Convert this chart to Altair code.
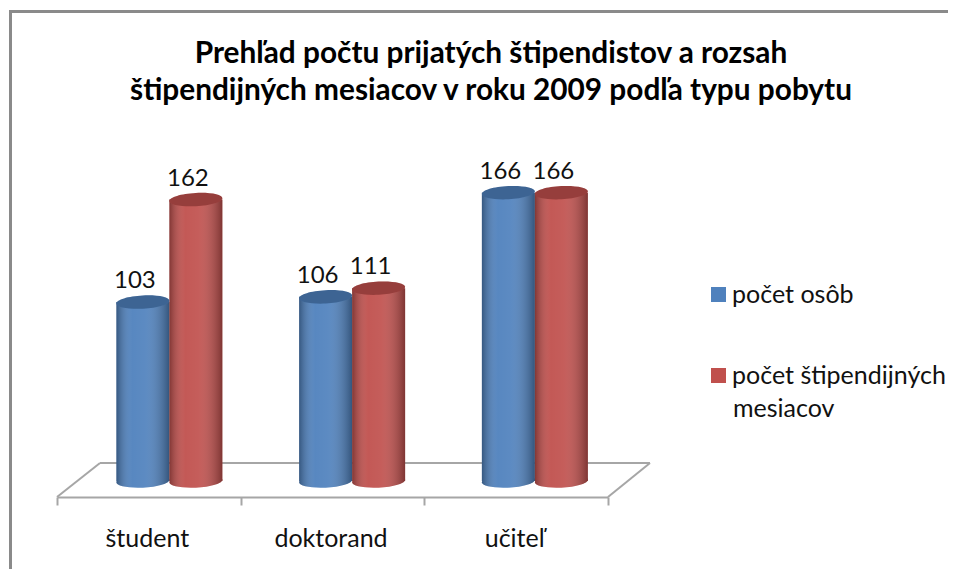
import altair as alt
import pandas as pd

categories = ["študent", "doktorand", "učiteľ"]
series_names = ["počet osôb", "počet štipendijných mesiacov"]
osob = [103, 106, 166]
mesiacov = [162, 111, 166]
title_lines = ["Prehľad počtu prijatých štipendistov a rozsah",
               "štipendijných mesiacov v roku 2009 podľa typu pobytu"]
FONT = "Lato"

rows = []
for c, a, b in zip(categories, osob, mesiacov):
    rows.append({"cat": c, "series": series_names[0], "value": a, "zero": 0})
    rows.append({"cat": c, "series": series_names[1], "value": b, "zero": 0})
df = pd.DataFrame(rows)
one = pd.DataFrame({"t": ["mesiacov"]})

W, H = 937, 557
bar_x = alt.Scale(domain=categories, range=[67, 615.25], paddingInner=0.42, paddingOuter=0.21)
axis_x = alt.Scale(domain=categories, range=[46, 597], paddingInner=0, paddingOuter=0)
y_s = alt.Scale(domain=[0, 270], range=[469, 0], nice=False)
off_s = alt.Scale(domain=series_names, paddingInner=0, paddingOuter=0)
col_s = alt.Scale(domain=series_names, range=["#4F81BD", "#C0504D"])

X = alt.X("cat:N", scale=bar_x, axis=None)
XO = alt.XOffset("series:N", scale=off_s)
Y = alt.Y("value:Q", scale=y_s, axis=None)
Y0 = alt.Y("zero:Q", scale=y_s, axis=None)

ELLIPSE = "M-1,0.05A1,0.25,-3,1,1,1,-0.05A1,0.25,-3,1,1,-1,0.05Z"
SIZE = 53 ** 2

shade = alt.Gradient(
    gradient="linear", x1=0, x2=1, y1=0, y2=0,
    stops=[
        alt.GradientStop(offset=0, color="rgba(0,0,0,0.32)"),
        alt.GradientStop(offset=0.3, color="rgba(255,255,255,0.05)"),
        alt.GradientStop(offset=0.55, color="rgba(255,255,255,0.08)"),
        alt.GradientStop(offset=1, color="rgba(0,0,0,0.34)"),
    ],
)

def edge(x1, x2, y1, y2, color="#a6a6a6", width=2):
    return alt.Chart(one).mark_rule(color=color, strokeWidth=width).encode(
        x=alt.value(x1), x2=alt.value(x2), y=alt.value(y1), y2=alt.value(y2)
    )

layers = [
    alt.Chart(df).mark_point(opacity=0).encode(
        x=alt.X("cat:N", scale=axis_x, axis=alt.Axis(
            title=None, orient="bottom", offset=-72, labelAngle=0, labelFont=FONT,
            labelFontSize=25, labelColor="#111111", labelPadding=21, labelOffset=-2, tickBand="extent",
            tickSize=8, tickWidth=2, tickColor="#a6a6a6", domainColor="#a6a6a6",
            domainWidth=2, grid=False)),
        y=Y0,
    ),
    edge(-0.5, -0.5, -2, 557, "#8a8a8a", 3),
    edge(-2, 937, -0.5, -0.5, "#8a8a8a", 3),
    edge(89, 639, 451, 451),
    edge(46, 89, 485, 451),
    edge(597, 639, 485, 451),
]

# bottom of the cylinders
layers.append(alt.Chart(df).mark_point(shape=ELLIPSE, size=SIZE, filled=True, opacity=1).encode(
    x=X, xOffset=XO, y=Y0,
    color=alt.Color("series:N", scale=col_s, legend=alt.Legend(
        title=None, orient="none", legendX=695, legendY=270, symbolType="square",
        symbolSize=225, symbolStrokeWidth=0, symbolOpacity=1, labelFont=FONT, labelFontSize=25,
        labelColor="#111111", labelLimit=300, labelOffset=1, rowPadding=55,
        labelBaseline="middle",
        labelExpr="datum.label == 'počet štipendijných mesiacov' ? 'počet štipendijných' : datum.label")),
))
layers.append(alt.Chart(df).mark_point(shape=ELLIPSE, size=SIZE, filled=True, opacity=1, color=shade).encode(
    x=X, xOffset=XO, y=Y0))
# bodies
layers.append(alt.Chart(df).mark_bar().encode(
    x=X, xOffset=XO, y=Y, y2=alt.Y2("zero:Q"),
    color=alt.Color("series:N", scale=col_s, legend=None)))
layers.append(alt.Chart(df).mark_bar(color=shade).encode(
    x=X, xOffset=XO, y=Y, y2=alt.Y2("zero:Q")))
# tops
layers.append(alt.Chart(df).mark_point(shape=ELLIPSE, size=SIZE, filled=True, opacity=1).encode(
    x=X, xOffset=XO, y=Y,
    color=alt.Color("series:N", scale=col_s, legend=None)))
layers.append(alt.Chart(df).mark_point(shape=ELLIPSE, size=SIZE, filled=True, opacity=0.22, color="#000000").encode(
    x=X, xOffset=XO, y=Y))
# value labels
layers.append(alt.Chart(df).mark_text(font=FONT, fontSize=24, color="#111111", dx=-8, dy=-21).encode(
    x=X, xOffset=XO, y=Y, text="value:Q"))
# second line of the long legend entry
layers.append(alt.Chart(one).mark_text(font=FONT, fontSize=25, color="#111111", align="left", baseline="middle").encode(
    x=alt.value(722), y=alt.value(397), text="t:N"))

chart = alt.layer(*layers).resolve_scale(x="independent").properties(
    width=W, height=H,
    autosize=alt.AutoSizeParams(type="none"),
    padding={"left": 3, "top": 4, "right": 0, "bottom": 0},
    title=alt.TitleParams(text=title_lines, font=FONT, fontSize=29.8, fontWeight="bold", color="#000000",
                          anchor="middle", frame="group", dx=11.5, dy=101, lineHeight=37, baseline="top"),
).configure_view(stroke=None, fill="white")

chart.save("out.html", embed_options={"renderer": "svg", "actions": False})
